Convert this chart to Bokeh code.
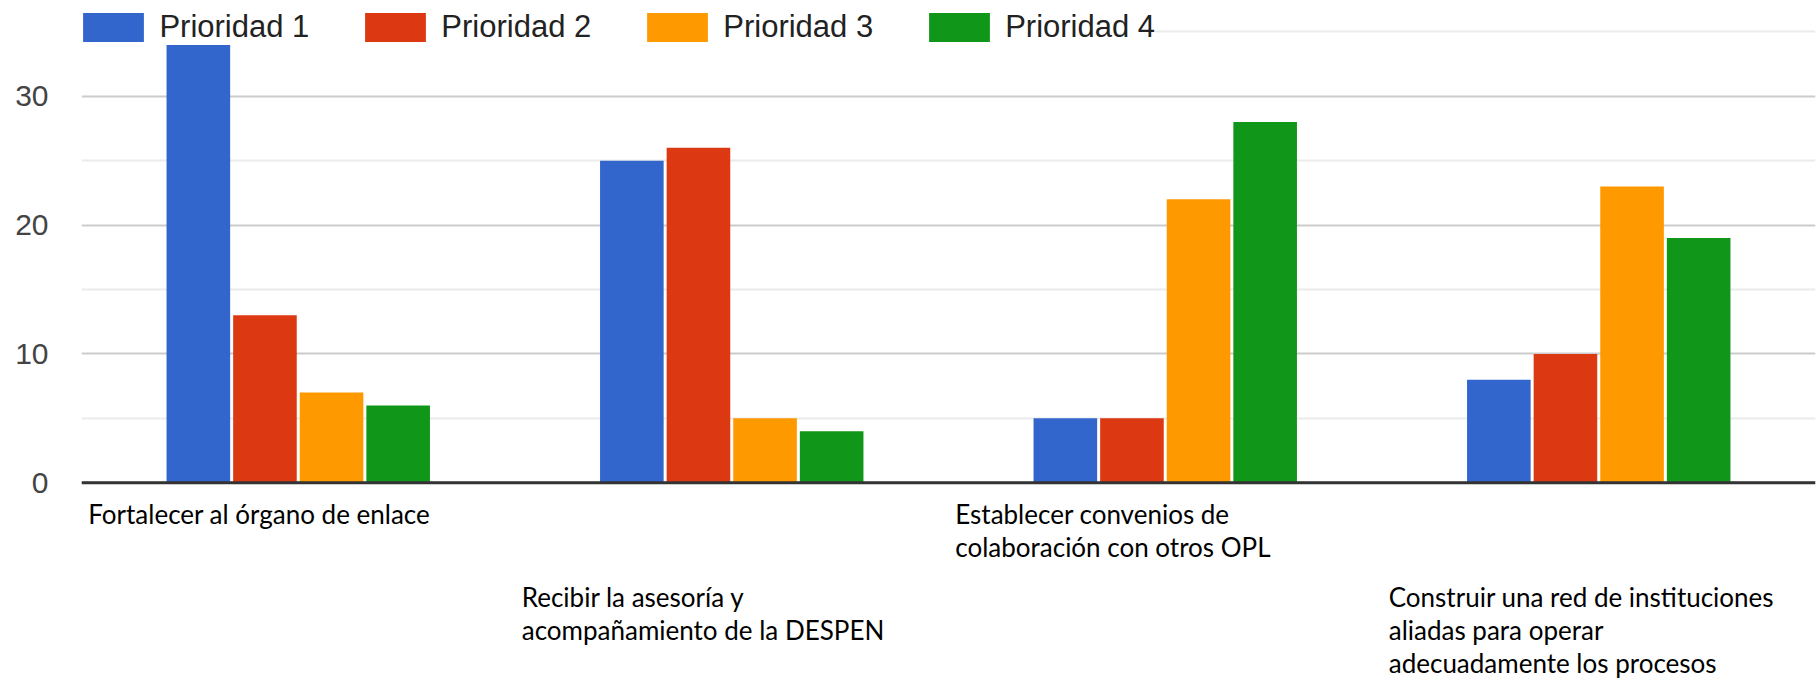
from bokeh.plotting import figure
from bokeh.models import (ColumnDataSource, FactorRange, Range1d, FixedTicker,
                          Legend, LegendItem, Span)
from bokeh.transform import dodge
from bokeh.core.properties import value
from bokeh.embed import file_html
from bokeh.resources import INLINE

# --- data -------------------------------------------------------------------
categories = [
    "Fortalecer al órgano de enlace",
    "Recibir la asesoría y acompañamiento de la DESPEN",
    "Establecer convenios de colaboración con otros OPL",
    "Construir una red de instituciones aliadas para operar adecuadamente los procesos",
]
category_lines = [
    ["Fortalecer al órgano de enlace"],
    ["Recibir la asesoría y", "acompañamiento de la DESPEN"],
    ["Establecer convenios de", "colaboración con otros OPL"],
    ["Construir una red de instituciones", "aliadas para operar", "adecuadamente los procesos"],
]
series_names = ["Prioridad 1", "Prioridad 2", "Prioridad 3", "Prioridad 4"]
prioridad_1 = [34, 25, 5, 8]
prioridad_2 = [13, 26, 5, 10]
prioridad_3 = [7, 5, 22, 23]
prioridad_4 = [6, 4, 28, 19]
series_values = [prioridad_1, prioridad_2, prioridad_3, prioridad_4]
colors = ["#3366cc", "#dc3912", "#ff9900", "#109618"]
y_major_ticks = [0, 10, 20, 30]
y_minor_ticks = [5, 15, 25, 35]

# --- figure -----------------------------------------------------------------
W, H = 1816, 680
LEFT, RIGHT = 81, 1
PX_PER_UNIT = 12.887          # vertical scale
ZERO_Y = 482.3                # screen row of the value axis zero line

p = figure(
    width=W, height=H,
    x_range=FactorRange(factors=categories, range_padding=0),
    y_range=Range1d(-(H - ZERO_Y) / PX_PER_UNIT, ZERO_Y / PX_PER_UNIT),
    output_backend="svg", toolbar_location=None, title=None,
    x_axis_location=None,
    min_border_left=LEFT, min_border_right=RIGHT,
    min_border_top=0, min_border_bottom=0,
    outline_line_color=None,
    background_fill_color="white", border_fill_color="white",
)

band_px = (W - LEFT - RIGHT) / len(categories)
step = 66.6 / band_px
bar_w = 63.6 / band_px

renderers = []
for i, (vals, col) in enumerate(zip(series_values, colors)):
    src = ColumnDataSource(dict(cat=categories, v=vals))
    r = p.vbar(x=dodge("cat", (i - 1.5) * step, range=p.x_range), top="v", bottom=0,
               width=bar_w, source=src, fill_color=col, line_color=None)
    renderers.append(r)

# --- grid and value axis ----------------------------------------------------
ticker = FixedTicker(ticks=y_major_ticks, minor_ticks=y_minor_ticks)
p.xgrid.grid_line_color = None
p.ygrid.ticker = ticker
p.ygrid.grid_line_color = "#cccccc"
p.ygrid.grid_line_width = 2
p.ygrid.minor_grid_line_color = "#ebebeb"
p.ygrid.minor_grid_line_width = 2

p.yaxis.ticker = ticker
p.yaxis.axis_line_color = None
p.yaxis.major_tick_line_color = None
p.yaxis.minor_tick_line_color = None
p.yaxis.major_tick_out = 0
p.yaxis.major_tick_in = 0
p.yaxis.minor_tick_out = 0
p.yaxis.major_label_standoff = 33
p.yaxis.major_label_text_font = "Liberation Sans"
p.yaxis.major_label_text_font_size = "30px"
p.yaxis.major_label_text_color = "#444444"

p.add_layout(Span(location=0, dimension="width", line_color="#333333", line_width=3))

# --- category labels (left aligned, staggered rows) -------------------------
lx, ly, lt, lxo, lyo = [], [], [], [], []
for idx, (cat, lines) in enumerate(zip(categories, category_lines)):
    row_offset = 31 if idx % 2 == 0 else 114
    for j, line in enumerate(lines):
        lx.append(cat)
        ly.append(0)
        lt.append(line)
        lxo.append(-210)
        lyo.append(row_offset + j * 33)
label_src = ColumnDataSource(dict(x=lx, y=ly, text=lt, xo=lxo, yo=lyo))
p.text(x="x", y="y", text="text", x_offset="xo", y_offset="yo", source=label_src,
       text_font=value("Lato"), text_font_size="26px", text_color="#000000",
       text_align="left", text_baseline="alphabetic")

# --- legend -----------------------------------------------------------------
# area glyphs are drawn inset by 10% of the glyph box, so the box is enlarged
legend = Legend(
    items=[LegendItem(label=n, renderers=[r]) for n, r in zip(series_names, renderers)],
    orientation="horizontal", location=(-5.6, 635.3),
    glyph_width=76, glyph_height=36, label_standoff=8, spacing=48,
    padding=0, margin=0,
    label_text_font="Liberation Sans", label_text_font_size="31px",
    label_text_color="#222222",
    border_line_color=None, background_fill_color="white", background_fill_alpha=1,
)
p.add_layout(legend)

open("out.html", "w").write(file_html(p, INLINE))
